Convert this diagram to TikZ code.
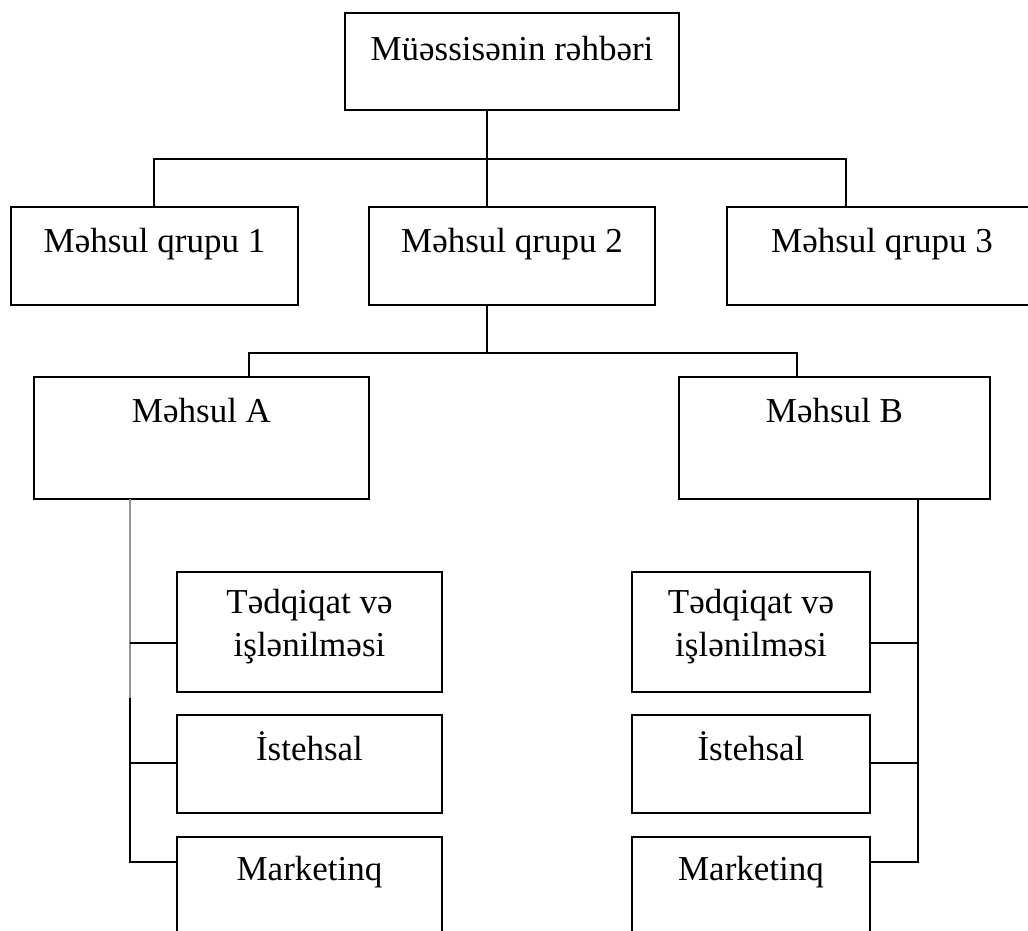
\documentclass[tikz,border=0pt]{standalone}
\usepackage{fontspec}
\setmainfont{Liberation Serif}
% a framed box given by its corners: name, x1, y1, x2, y2
\newcommand\orgbox[5]{%
  \node[box, minimum width={(#4)-(#2)}, minimum height={(#5)-(#3)}] (#1)
    at ({((#2)+(#4))/2},{((#3)+(#5))/2}) {};}
\begin{document}
\begin{tikzpicture}[x=1pt,y=-1pt,
  box/.style={draw=black, line width=1.6pt, rectangle, inner sep=0pt, outer sep=0pt},
  lbl/.style={anchor=base, inner sep=0pt, font=\fontsize{35}{43}\selectfont, align=center, text=black},
  link/.style={draw=black, line width=1.6pt},
  fade/.style={draw=black!42, line width=1.6pt}]
\useasboundingbox (0,0) rectangle (1028,930);
\clip (0,0) rectangle (1028,930);

% boxes
\orgbox{head}{345}{13}{679}{110}
\orgbox{g1}{11}{207}{298}{305}
\orgbox{g2}{369}{207}{655}{305}
\orgbox{g3}{727}{207}{1037}{305}
\orgbox{pa}{34}{377}{369}{499}
\orgbox{pb}{679}{377}{990}{499}
\orgbox{ra1}{177}{572}{442}{692}
\orgbox{ra2}{177}{715}{442}{813}
\orgbox{ra3}{177}{837}{442}{960}
\orgbox{rb1}{632}{572}{870}{692}
\orgbox{rb2}{632}{715}{870}{813}
\orgbox{rb3}{632}{837}{870}{960}

% labels (two-line labels are anchored at their last baseline)
\node[lbl] (thead) at (512,60) {Müəssisənin rəhbəri};
\node[lbl] (tg1) at (154.5,252) {Məhsul qrupu 1};
\node[lbl] (tg2) at (512,252) {Məhsul qrupu 2};
\node[lbl] (tg3) at (882,252) {Məhsul qrupu 3};
\node[lbl] (tpa) at (201.5,422) {Məhsul A};
\node[lbl] (tpb) at (834.5,422) {Məhsul B};
\node[lbl] (tra1) at (309.5,656) {Tədqiqat və\\işlənilməsi};
\node[lbl] (tra2) at (309.5,760) {İstehsal};
\node[lbl] (tra3) at (309.5,880) {Marketinq};
\node[lbl] (trb1) at (751,656) {Tədqiqat və\\işlənilməsi};
\node[lbl] (trb2) at (751,760) {İstehsal};
\node[lbl] (trb3) at (751,880) {Marketinq};

% junction points
\coordinate (bus1) at (487,159);
\coordinate (c1) at (154,159);
\coordinate (c3) at (846,159);
\coordinate (bus2) at (487,353);
\coordinate (cA) at (249,353);
\coordinate (cB) at (797,353);
\coordinate (sA) at (130,698);
\coordinate (hA1) at (130,643);
\coordinate (hA2) at (130,763);
\coordinate (hA3) at (130,862);
\coordinate (hB1) at (918,643);
\coordinate (hB2) at (918,763);
\coordinate (hB3) at (918,862);

% first level
\draw[link] (head.south -| bus1) -- (g2.north -| bus1);
\draw[link] (g1.north -| c1) -- (c1) -- (c3) -- (g3.north -| c3);

% second level
\draw[link] (g2.south -| bus2) -- (bus2);
\draw[link] (pa.north -| cA) -- (cA) -- (cB) -- (pb.north -| cB);

% departments under product A
\draw[fade] (pa.south -| sA) -- (sA);
\draw[link] (sA) -- (hA3) -- (hA3 -| ra3.west);
\draw[link] (hA1) -- (hA1 -| ra1.west);
\draw[link] (hA2) -- (hA2 -| ra2.west);

% departments under product B
\draw[link] (pb.south -| hB1) -- (hB3) -- (hB3 -| rb3.east);
\draw[link] (hB1) -- (hB1 -| rb1.east);
\draw[link] (hB2) -- (hB2 -| rb2.east);
\end{tikzpicture}
\end{document}
